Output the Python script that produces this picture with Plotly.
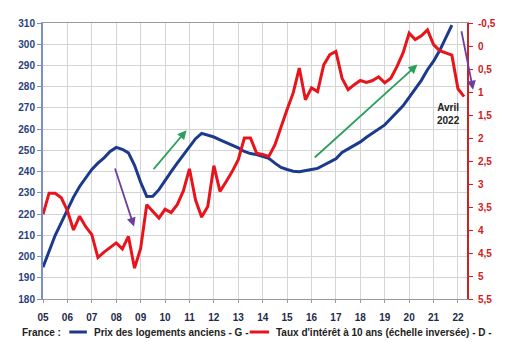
import plotly.graph_objects as go

# Prix des logements anciens (indice, trimestriel, T1 2005 -> T4 2021)
prix_values = [
    195, 203, 210, 216,
    222, 228, 233, 237,
    241, 244, 246.5, 249.5,
    251.4, 250.5, 248.8, 243,
    235, 228.3, 228.4, 231.5,
    236, 240, 244, 248,
    251.5, 255.5, 258, 257.3,
    256.3, 255, 253.8, 252.6,
    251.2, 249.5, 248.5, 248,
    247, 246.3, 244, 242,
    241, 240.2, 239.9, 240.3,
    241, 241.5, 243, 244.2,
    246, 249, 250.7, 252.3,
    254, 256.2, 258.2, 260.3,
    262, 265, 268, 271,
    275, 279, 283, 288,
    292, 297, 303, 309,
]

# Taux d'intérêt à 10 ans (%, trimestriel, T1 2005 -> avril 2022)
taux_values = [
    3.66, 3.2, 3.2, 3.3,
    3.58, 4.0, 3.7, 3.93,
    4.1, 4.6, 4.48, 4.37,
    4.28, 4.41, 4.14, 4.83,
    4.4, 3.45, 3.6, 3.74,
    3.55, 3.62, 3.45, 3.15,
    2.67, 3.35, 3.72, 3.49,
    2.6, 3.16, 2.95, 2.73,
    2.47, 2.0, 2.0, 2.33,
    2.36, 2.4, 2.15, 1.75,
    1.38, 1.02, 0.48, 1.17,
    0.91, 0.99, 0.41, 0.19,
    0.12, 0.7, 0.95, 0.84,
    0.75, 0.79, 0.75, 0.67,
    0.8, 0.7, 0.45, 0.15,
    -0.28, -0.14, -0.22, -0.35,
    -0.03, 0.1, 0.15, 0.2,
    0.93, 1.1,
]

year_ticks = list(range(2005, 2023))
left_ticks = list(range(180, 311, 10))
right_ticks = [-0.5 + 0.5 * i for i in range(13)]

legend_prefix = "France :"
prix_label = "Prix des logements anciens - G -"
taux_label = "Taux d'intérêt à 10 ans (échelle inversée) - D -"


def quarter_positions(n):
    return [2005 + i / 4 for i in range(n)]


def fr_num(v):
    return f"{v:g}".replace(".", ",")


BLUE = "#1b3a8c"
RED = "#e8141c"
DARK = "#1f2a4a"
TXT = "#222222"
FONT = "Liberation Sans, Arial, sans-serif"

# plot area in pixels: left 43, width 435, top 23, height 276
PL, PW, PT, PH = 43, 435, 23, 276


def px_to_paper(px, py):
    return (px - PL) / PW, (PT + PH - py) / PH


fig = go.Figure()
fig.add_trace(go.Scatter(
    x=quarter_positions(len(prix_values)), y=prix_values,
    mode="lines", name=prix_label,
    line=dict(color=BLUE, width=3), yaxis="y",
))
fig.add_trace(go.Scatter(
    x=quarter_positions(len(taux_values)), y=taux_values,
    mode="lines", name=taux_label,
    line=dict(color=RED, width=3), yaxis="y2",
))

# Flèches de tendance
arrows = [
    (2007.93, 242.2, 2008.73, 214.1, "#6b3fa0"),
    (2009.48, 240.5, 2010.88, 259.5, "#2aa05a"),
    (2016.07, 246.0, 2020.34, 290.4, "#2aa05a"),
    (2022.13, 306.8, 2022.62, 278.6, "#6b3fa0"),
]
for x0, y0, x1, y1, col in arrows:
    fig.add_annotation(
        x=x1, y=y1, ax=x0, ay=y0, xref="x", yref="y", axref="x", ayref="y",
        showarrow=True, arrowhead=2, arrowsize=1, arrowwidth=1.8,
        arrowcolor=col, text="",
    )

fig.add_annotation(x=2021.55, y=314.3, xref="x", yref="y", text="<b>T4 2021</b>",
                   showarrow=False, font=dict(family=FONT, size=10, color=TXT))
fig.add_annotation(x=2021.62, y=267.3, xref="x", yref="y", text="<b>Avril<br>2022</b>",
                   showarrow=False, align="center",
                   font=dict(family=FONT, size=10, color=TXT))

# Légende en bas du graphique
leg_y = 332
items = [
    (19, None, legend_prefix),
    (93, (70, 88, BLUE), prix_label),
    (280, (255, 275, RED), taux_label),
]
for tx, seg, label in items:
    if seg is not None:
        x0, _ = px_to_paper(seg[0], leg_y)
        x1, yy = px_to_paper(seg[1], leg_y)
        fig.add_shape(type="line", xref="paper", yref="paper",
                      x0=x0, x1=x1, y0=yy, y1=yy,
                      line=dict(color=seg[2], width=3))
    ax_, ay_ = px_to_paper(tx, leg_y)
    fig.add_annotation(x=ax_, y=ay_, xref="paper", yref="paper",
                       xanchor="left", yanchor="middle", showarrow=False,
                       text=f"<b>{label}</b>",
                       font=dict(family=FONT, size=10, color=TXT))

fig.update_layout(
    width=508, height=342,
    margin=dict(l=PL, r=508 - PL - PW, t=PT, b=342 - PT - PH),
    paper_bgcolor="white", plot_bgcolor="white",
    font=dict(family=FONT, size=10, color=DARK),
    hovermode=False,
    showlegend=False,
    xaxis=dict(
        range=[2005, 2022.37], tickvals=year_ticks,
        ticktext=[f"<b>{y % 100:02d}</b>" for y in year_ticks],
        showgrid=True, gridcolor="#d4d4d4", gridwidth=1,
        showline=True, linecolor="#9a9a9a", linewidth=1, mirror=True,
        ticks="outside", ticklen=3, tickcolor="#9a9a9a",
        ticklabelstandoff=6,
        tickfont=dict(family=FONT, size=10, color=DARK),
        zeroline=False,
    ),
    yaxis=dict(
        range=[180, 310], tickvals=left_ticks,
        ticktext=[f"<b>{v}</b>" for v in left_ticks],
        showgrid=True, gridcolor="#d4d4d4", gridwidth=1,
        showline=True, linecolor="#7d90c4", linewidth=2,
        ticks="outside", ticklen=4, tickcolor="#7d90c4",
        tickfont=dict(family=FONT, size=10, color="#2a3f7a"),
        zeroline=False,
    ),
    yaxis2=dict(
        range=[5.5, -0.5], overlaying="y", side="right",
        tickvals=right_ticks,
        ticktext=[f"<b>{fr_num(v)}</b>" for v in right_ticks],
        showgrid=False, showline=True, linecolor="#d02020", linewidth=2,
        ticks="outside", ticklen=4, tickcolor="#d02020",
        ticklabelstandoff=3,
        tickfont=dict(family=FONT, size=10, color="#d02020"),
        zeroline=False,
    ),
)

fig.write_html("out.html")
